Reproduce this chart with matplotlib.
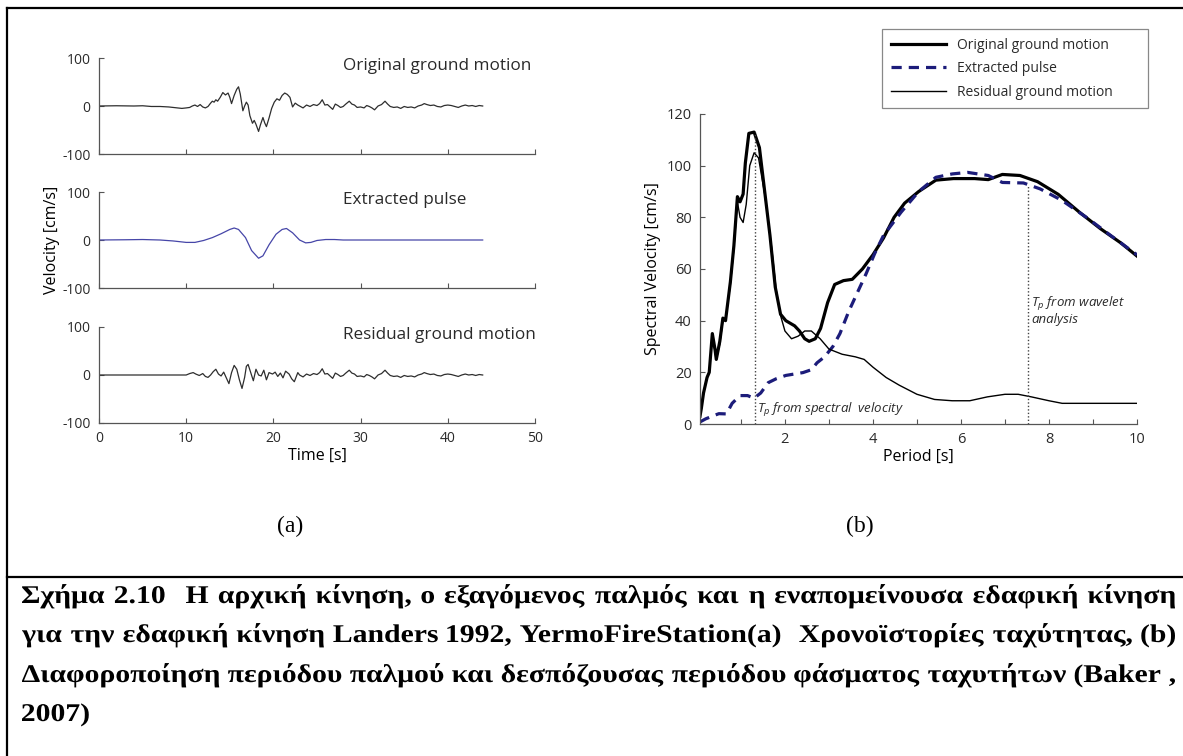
import matplotlib
matplotlib.use("Agg")
import matplotlib.pyplot as plt
from matplotlib.lines import Line2D
from matplotlib.textpath import TextPath
from matplotlib.patches import PathPatch
from matplotlib.font_manager import FontProperties
from matplotlib.transforms import Affine2D

W, H = 1183, 756

# ---- left: velocity time histories [cm/s] ----
coda_t = [23.0, 23.4, 23.8, 24.2, 24.6, 25.0, 25.3, 25.6, 25.9, 26.2, 26.5, 26.8, 27.1, 27.4, 27.7,
          28.0, 28.3, 28.7, 29.0, 29.3, 29.6, 30.0, 30.4, 30.7, 31.0, 31.3, 31.6, 32.0, 32.4, 32.8,
          33.1, 33.4, 33.8, 34.2, 34.6, 35.0, 35.4, 35.8, 36.2, 36.6, 37.0, 37.3, 37.6, 38.0, 38.4,
          38.8, 39.2, 39.6, 40.0, 40.4, 40.8, 41.2, 41.6, 42.0, 42.4, 42.8, 43.2, 43.6, 44.0]
coda_v = [0, -4, 2, -1, 3, 1, 5, 13, 2, 3, -2, -7, 4, 1, -3,
          -1, 4, 10, 4, 2, -3, -2, -4, 1, -1, -4, -8, 0, 3, 10,
          4, -1, -3, -2, -5, -1, -3, -2, -4, 0, 2, 5, 3, 1, 2,
          -1, -2, 1, 2, 1, -1, -3, 0, 2, 0, 1, -1, 1, 0]

orig_t = [0, 2, 4, 5, 6, 7, 8, 8.5, 9, 9.5, 10, 10.4, 10.7, 11.0, 11.3, 11.6, 11.9, 12.2, 12.5,
          12.8, 13.0, 13.2, 13.4, 13.6, 13.9, 14.2, 14.5, 14.8, 15.0, 15.2, 15.5, 15.8, 16.0,
          16.2, 16.5, 16.7, 16.9, 17.1, 17.3, 17.6, 17.8, 18.0, 18.3, 18.5, 18.8, 19.0, 19.2,
          19.5, 19.8, 20.1, 20.4, 20.7, 21.0, 21.3, 21.6, 21.9, 22.2, 22.5, 22.8]
orig_v = [0, 0.5, 0, 0.5, -1, -1, -2, -3, -4, -5, -4, -3, 0, 2, -1, 3, -2, -4, -1,
          6, 10, 8, 13, 10, 18, 28, 23, 27, 18, 5, 22, 35, 40,
          25, -10, 0, 8, 2, -20, -36, -30, -38, -53, -40, -24, -35, -43,
          -25, -5, 8, 15, 12, 22, 27, 24, 18, -2, 6, 2]

pulse_t = [0, 3, 5, 7, 8.5, 10, 11, 12, 13, 14, 15, 15.5, 16, 16.8, 17.5, 18.3, 18.8, 19.5,
           20.3, 21, 21.5, 22.2, 23, 23.7, 24.3, 25, 26, 27, 28, 44]
pulse_v = [0, 0.5, 1, 0, -2, -5, -5, -1, 5, 13, 22, 25, 22, 5, -22, -38, -33, -10,
           12, 22, 24, 15, 0, -6, -5, -1, 1, 1, 0, 0]

res_t = [0, 5, 8, 10, 10.4, 10.8, 11.1, 11.5, 11.9, 12.2, 12.5, 12.8, 13.1, 13.4, 13.7, 14.0,
         14.3, 14.6, 14.9, 15.2, 15.5, 15.8, 16.1, 16.4, 16.7, 16.9, 17.1, 17.4, 17.7, 18.0,
         18.3, 18.6, 18.9, 19.2, 19.5, 19.9, 20.2, 20.5, 20.8, 21.1, 21.4, 21.8, 22.1, 22.4, 22.8]
res_v = [0, 0, 0, 0, 3, 5, 2, -1, 3, -3, -5, 0, 7, 12, 2, -2,
         6, -6, -18, 5, 20, 12, -10, -28, -5, 18, 22, 5, -12, 12,
         0, -2, 10, -10, 5, 2, 6, -3, 4, -6, 8, 2, -8, -14, 5]

panel_titles = ["Original ground motion", "Extracted pulse", "Residual ground motion"]

# ---- right: spectral velocity [cm/s] vs period [s] ----
per_orig = [0.07, 0.1, 0.15, 0.23, 0.28, 0.35, 0.41, 0.44, 0.52, 0.59, 0.65, 0.76, 0.84, 0.92,
            0.98, 1.05, 1.10, 1.18, 1.30, 1.42, 1.54, 1.66, 1.78, 1.90, 2.02, 2.22, 2.33, 2.45,
            2.55, 2.69, 2.81, 2.97, 3.13, 3.33, 3.53, 3.76, 4.0, 4.24, 4.48, 4.72, 5.04, 5.43,
            5.83, 6.31, 6.62, 6.94, 7.34, 7.74, 8.21, 8.69, 9.17, 9.64, 10]
sv_orig = [3, 6, 12, 18, 20, 35, 29, 25, 32, 41, 40, 55, 69, 88,
           86, 89, 101, 112.5, 113, 107, 90, 73, 53, 42.5, 40, 38, 36, 33,
           32, 33, 37, 47, 54, 55.5, 56, 60, 65.5, 72, 80, 85.5, 90, 94.4,
           95, 95, 94.6, 96.6, 96.2, 93.8, 88.9, 82, 75.6, 70, 65]

per_res = [0.07, 0.1, 0.15, 0.23, 0.28, 0.35, 0.41, 0.44, 0.52, 0.59, 0.65, 0.76, 0.84, 0.92,
           0.98, 1.05, 1.12, 1.2, 1.3, 1.4, 1.55, 1.7, 1.8, 1.9, 2.0, 2.15, 2.3, 2.45, 2.6,
           2.8, 3.0, 3.3, 3.6, 3.8, 4.0, 4.3, 4.6, 5.0, 5.4, 5.8, 6.2, 6.6, 7.0, 7.3, 7.6,
           8.0, 8.3, 9.0, 10]
sv_res = [3, 6, 12, 18, 20, 34, 28, 25, 31, 40, 40, 54, 68, 86,
          80, 78, 85, 100, 105, 103, 88, 68, 52, 42, 36, 33, 34, 36, 36,
          33, 29, 27, 26, 25, 22, 18, 15, 11.5, 9.5, 9, 9, 10.5, 11.5, 11.5, 10.5,
          9, 8, 8, 8]

per_pulse = [0.07, 0.2, 0.39, 0.5, 0.67, 0.8, 0.98, 1.15, 1.3, 1.45, 1.62, 1.8, 2.02, 2.41,
             2.6, 2.73, 2.9, 3.09, 3.25, 3.45, 3.65, 3.84, 4.04, 4.24, 4.64, 5.04, 5.43, 5.8,
             6.15, 6.62, 6.94, 7.42, 7.8, 8.29, 8.85, 9.4, 10]
sv_pulse = [0.8, 2, 3.3, 4, 3.9, 8, 11, 11, 10, 12, 16, 17.5, 18.8, 19.9,
            21, 23.7, 26, 30, 35, 43.6, 51, 58, 66, 73, 82, 90, 95.5, 96.8,
            97.4, 96.2, 93.5, 93.3, 91, 86.6, 80, 73, 65.5]

tp_spectral, tp_spectral_top = 1.32, 113
tp_wavelet, tp_wavelet_top = 7.52, 92.5

caption = [
    "Σχήμα 2.10  Η αρχική κίνηση, ο εξαγόμενος παλμός και η εναπομείνουσα εδαφική κίνηση",
    "για την εδαφική κίνηση Landers 1992, YermoFireStation(a)  Χρονοϊστορίες ταχύτητας, (b)",
    "Διαφοροποίηση περιόδου παλμού και δεσπόζουσας περιόδου φάσματος ταχυτήτων (Baker ,",
    "2007)",
]

plt.rcParams["font.family"] = ["Open Sans", "DejaVu Sans"]
plt.rcParams["mathtext.fontset"] = "custom"
plt.rcParams["mathtext.it"] = "Open Sans:italic"
plt.rcParams["mathtext.rm"] = "Open Sans"
plt.rcParams["axes.unicode_minus"] = False
plt.rcParams["text.color"] = "#2a2a2a"
plt.rcParams["axes.edgecolor"] = "#555555"
plt.rcParams["xtick.color"] = "#555555"
plt.rcParams["ytick.color"] = "#555555"
plt.rcParams["xtick.labelcolor"] = "#2a2a2a"
plt.rcParams["ytick.labelcolor"] = "#2a2a2a"

fig = plt.figure(figsize=(W / 100, H / 100), dpi=100)


def px(x0, y0, x1, y1):
    # pixel box (top-left origin) -> figure rect
    return [x0 / W, 1 - y1 / H, (x1 - x0) / W, (y1 - y0) / H]


def style(ax, size):
    for s in ["top", "right"]:
        ax.spines[s].set_visible(False)
    for s in ["left", "bottom"]:
        ax.spines[s].set_linewidth(0.9)
    ax.tick_params(direction="in", length=3.5, width=0.8, labelsize=size, pad=6)


series = [(orig_t + coda_t, orig_v + coda_v, "#2e2e2e"),
          (pulse_t, pulse_v, "#4646a8"),
          (res_t + coda_t, res_v + coda_v, "#2e2e2e")]
tops = [58, 192, 327]
for i, (tt, vv, col) in enumerate(series):
    ax = fig.add_axes(px(99, tops[i], 535, tops[i] + 96))
    ax.plot(tt, vv, color=col, lw=0.9)
    ax.set_xlim(0, 50)
    ax.set_ylim(-100, 100)
    ax.set_yticks([-100, 0, 100])
    ax.set_xticks(range(0, 51, 10))
    style(ax, 10)
    ax.text(28, 84, panel_titles[i], fontsize=12.3, ha="left", va="center")
    if i < 2:
        ax.tick_params(labelbottom=False)
    else:
        ax.set_xlabel("Time [s]", fontsize=11.5, labelpad=1)
    if i == 1:
        ax.set_ylabel("Velocity [cm/s]", fontsize=11.5, labelpad=2)

ax = fig.add_axes(px(700, 114, 1137, 424))
ax.plot(per_orig, sv_orig, color="black", lw=2.3, label="Original ground motion")
ax.plot(per_pulse, sv_pulse, color="#1c1c7a", lw=2.3, ls=(0, (3.2, 2.2)), label="Extracted pulse")
ax.plot(per_res, sv_res, color="black", lw=1.0, label="Residual ground motion")
ax.vlines([tp_spectral, tp_wavelet], 0, [tp_spectral_top, tp_wavelet_top],
          colors="#444444", linestyles=(0, (1, 1.5)), lw=1.0)
ax.set_xlim(0.07, 10)
ax.set_ylim(0, 120)
ax.set_xticks(range(1, 11))
ax.set_xticklabels(["" if k % 2 else str(k) for k in range(1, 11)])
ax.set_yticks(range(0, 121, 20))
style(ax, 10.5)
ax.set_xlabel("Period [s]", fontsize=11.5, labelpad=1)
ax.set_ylabel("Spectral Velocity [cm/s]", fontsize=11.5, labelpad=4)
ax.text(tp_spectral + 0.05, 5.5, r"$T_p$ from spectral  velocity", fontsize=9.5,
        style="italic", ha="left", va="center")
ax.text(tp_wavelet + 0.07, 44, "$T_p$ from wavelet\nanalysis", fontsize=9.5,
        style="italic", ha="left", va="center", linespacing=1.05)
leg = ax.legend(loc="upper left", mode="expand",
                bbox_to_anchor=(882 / W, 1 - 105 / H, (1148 - 882) / W, 76 / H),
                bbox_transform=fig.transFigure, fontsize=10, handlelength=4.0,
                labelspacing=0.62, borderpad=0.62, fancybox=False, framealpha=1,
                edgecolor="#888888", borderaxespad=0)
leg.get_frame().set_linewidth(0.9)

# subfigure labels
fig.text(290 / W, 1 - 526 / H, "(a)", fontsize=17, family="Liberation Serif",
         ha="center", va="center", color="black")
fig.text(860 / W, 1 - 526 / H, "(b)", fontsize=17, family="Liberation Serif",
         ha="center", va="center", color="black")

# frame lines of the document table
for xs, ys in [((7, W), (8, 8)), ((7, 7), (8, H)), ((7, W), (577, 577))]:
    fig.add_artist(Line2D([x / W for x in xs], [1 - y / H for y in ys],
                          color="black", lw=1.6))

# justified bold caption, drawn as glyph paths so the width can be matched
fp = FontProperties(family="Liberation Serif", weight="bold")
x_left, x_right = 22, 1175
baselines = [603, 642, 682, 721]
em = 25.5
space = TextPath((0, 0), "a a", size=1, prop=fp).get_extents().width - \
    2 * TextPath((0, 0), "a", size=1, prop=fp).get_extents().width


def split_words(line):
    words, gaps, n_sp = [], [], 0
    for tok in line.split(" "):
        if tok == "":
            n_sp += 1
            continue
        if words:
            gaps.append(n_sp)
        words.append(tok)
        n_sp = 1
    return words, gaps


def natural_width(line):
    words, gaps = split_words(line)
    return sum(TextPath((0, 0), w, size=1, prop=fp).get_extents().width for w in words) \
        + space * sum(gaps)


# horizontal glyph scale: the widest justified line gets normal word spacing
sx = min((x_right - x_left) / (natural_width(l) * em) for l in caption[:-1])

for k, line in enumerate(caption):
    words, gaps = split_words(line)
    paths = [TextPath((0, 0), w, size=1, prop=fp) for w in words]
    widths = [p.get_extents().width * em * sx for p in paths]
    lefts = [p.get_extents().x0 * em * sx for p in paths]
    if k < len(caption) - 1:
        unit = (x_right - x_left - sum(widths)) / sum(gaps)
    else:
        unit = space * em * sx
    x = x_left
    for j, p in enumerate(paths):
        tr = Affine2D().scale(em * sx, em).translate(x - lefts[j], H - baselines[k])
        fig.add_artist(PathPatch(p, transform=tr, facecolor="black", edgecolor="none"))
        x += widths[j]
        if j < len(gaps):
            x += unit * gaps[j]

fig.savefig("out.png", dpi=100, facecolor="white")
